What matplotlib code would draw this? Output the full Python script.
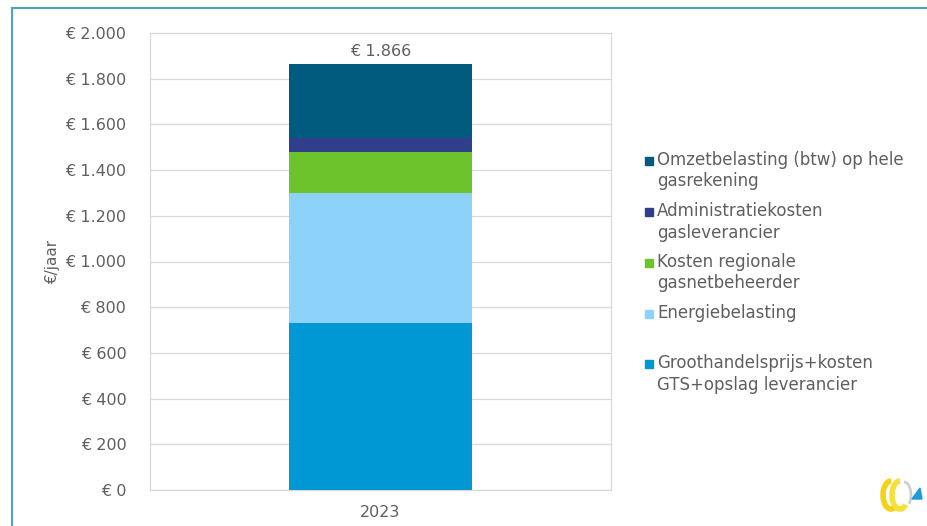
import matplotlib
matplotlib.use('Agg')
import matplotlib.pyplot as plt
from matplotlib.patches import Rectangle, Arc, Polygon
from matplotlib.lines import Line2D

# data (euro per year, 2023)
years = ['2023']
components = ['Groothandelsprijs+kosten\nGTS+opslag leverancier',
              'Energiebelasting',
              'Kosten regionale\ngasnetbeheerder',
              'Administratiekosten\ngasleverancier',
              'Omzetbelasting (btw) op hele\ngasrekening']
values = [730, 570, 180, 60, 326]
colors = ['#0098d4', '#8dd3f9', '#6cc32c', '#2f3f8c', '#005b7f']
yticks = [0, 200, 400, 600, 800, 1000, 1200, 1400, 1600, 1800, 2000]

grey = '#5f5f5f'
plt.rcParams['font.family'] = 'DejaVu Sans'

fig = plt.figure(figsize=(9.28, 5.26), dpi=100)
ax = fig.add_axes([150/928, 1-490/526, 461/928, 457/526])

bottom = 0
for v, c in zip(values, colors):
    ax.bar(0, v, width=0.397, bottom=bottom, color=c, zorder=3)
    bottom += v

total = sum(values)
ax.text(0, total + 22, '€ ' + format(total, ',').replace(',', '.'),
        ha='center', va='bottom', fontsize=11.5, color=grey)

ax.set_xlim(-0.5, 0.5)
ax.set_ylim(0, 2000)
ax.set_xticks([0])
ax.set_xticklabels(years, fontsize=11.5, color=grey)
ax.set_yticks(yticks)
ax.set_yticklabels(['€ ' + format(t, ',').replace(',', '.') for t in yticks],
                   fontsize=11.5, color=grey)
ax.tick_params(length=0)
ax.tick_params(axis='y', pad=17)
ax.tick_params(axis='x', pad=11)
ax.grid(axis='y', color='#d9d9d9', linewidth=0.9, zorder=0)
for s in ax.spines.values():
    s.set_color('#d9d9d9')
    s.set_linewidth(0.9)
ax.set_ylabel('€/jaar', fontsize=11, color=grey, labelpad=4)

# legend, drawn by hand (top entry first)
ys = [161, 212, 263, 314, 364]
for y, lab, c in zip(ys, components[::-1], colors[::-1]):
    fig.add_artist(Rectangle((645/928, 1-(y+4)/526), 8/928, 8/526,
                             transform=fig.transFigure, color=c))
    fig.text(657/928, 1-(y-10)/526, lab, fontsize=12, color=grey,
             va='top', ha='left', linespacing=1.25)

# frame lines
fig.add_artist(Line2D([12/928, 12/928], [0, 1-8/526], transform=fig.transFigure,
                      color='#4aa6b8', linewidth=1.5))
fig.add_artist(Line2D([12/928, 1], [1-8/526, 1-8/526], transform=fig.transFigure,
                      color='#4aa6b8', linewidth=1.5))

# small logo bottom right
lax = fig.add_axes([878/928, 1-512/526, 46/928, 34/526])
lax.set_xlim(0, 46)
lax.set_ylim(0, 34)
lax.axis('off')
lax.add_patch(Arc((13, 17), 16, 28, theta1=90, theta2=300, color='#f2d21b', linewidth=4))
lax.add_patch(Arc((22, 17), 16, 28, theta1=90, theta2=300, color='#f5e03a', linewidth=4))
lax.add_patch(Arc((26, 17), 14, 26, theta1=-60, theta2=90, color='#cfcfcf', linewidth=2))
lax.add_patch(Polygon([[34, 13], [44, 13], [42, 24]], color='#1e9be0'))

fig.savefig('out.png', dpi=100)
